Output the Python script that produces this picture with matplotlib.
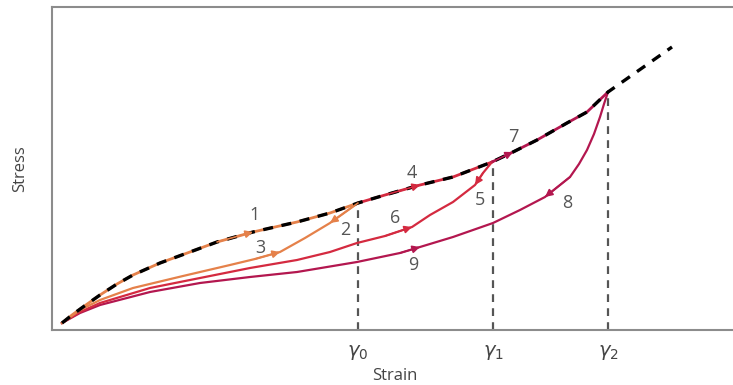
import matplotlib.pyplot as plt

plt.rcParams['font.family'] = ['Open Sans', 'DejaVu Sans']
plt.rcParams['mathtext.fontset'] = 'dejavusans'

# loading envelope (strain, stress), arbitrary units
env_x = [10, 20, 31, 48, 65, 81, 108, 138, 165, 201, 245, 278, 306, 333, 368, 401, 440,
         461, 485, 515, 535, 556]
env_y = [7, 15, 23, 35, 46, 55, 67, 78, 88, 98, 108, 117, 127, 135, 145, 153, 168,
         178, 190, 207, 218, 238]
ext_x = [556, 620]
ext_y = [238, 283]

# unloading curve from gamma0
c3_x = [306, 278, 253, 228, 203, 178, 131, 81, 48, 28, 10]
c3_y = [127, 107, 92, 78, 71, 65, 54, 42, 30, 20, 7]
# unloading curve from gamma1
c6_x = [440, 431, 423, 401, 378, 360, 333, 305, 278, 245, 198, 148, 98, 48, 28, 10]
c6_y = [168, 157, 145, 128, 115, 103, 94, 87, 78, 70, 62, 52, 42, 27, 18, 7]
# unloading curve from gamma2
c9_x = [556, 552, 548, 542, 535, 527, 518, 493, 468, 441, 401, 368, 348, 305, 245, 198,
        148, 98, 48, 28, 10]
c9_y = [238, 226, 213, 196, 180, 166, 153, 133, 120, 107, 93, 83, 77, 68, 58, 53,
        47, 38, 25, 17, 7]

gammas = [306, 441, 556]
gamma_stress = [127, 168, 238]
gamma_labels = [r'$\gamma_0$', r'$\gamma_1$', r'$\gamma_2$']

num_x = [203, 293, 208, 360, 428, 343, 461, 515, 361]
num_y = [115, 100, 82, 157, 130, 112, 193, 127, 65]

orange = '#e5814a'
red = '#d42a40'
crimson = '#b3174f'
grey = '#555555'

fig = plt.figure(figsize=(7.33, 3.85), dpi=100)
ax = fig.add_axes([52 / 733, 55 / 385, 681 / 733, 323 / 385])
ax.set_xlim(0, 681)
ax.set_ylim(0, 323)

# coloured solid paths
ax.plot(env_x[:13], env_y[:13], color=orange, lw=2.0, solid_capstyle='round')
ax.plot(env_x[12:17], env_y[12:17], color=red, lw=2.0)
ax.plot(env_x[16:], env_y[16:], color=crimson, lw=2.0)
ax.plot(c9_x, c9_y, color=crimson, lw=1.6)
ax.plot(c6_x, c6_y, color=red, lw=1.6)
ax.plot(c3_x, c3_y, color=orange, lw=1.6)

# black dashed envelope on top
ax.plot(env_x + ext_x[1:], env_y + ext_y[1:], color='black', lw=2.4,
        dashes=(3.0, 2.6), zorder=3)

# vertical guide lines
for g, s in zip(gammas, gamma_stress):
    ax.plot([g, g], [0, s], color=grey, lw=1.6, dashes=(3.5, 2.8), zorder=1)

# arrowheads: (curve x, curve y, index, step, colour)
arrows = [
    (env_x, env_y, 9, 1, orange),
    (c3_x, c3_y, 1, 1, orange),
    (c3_x, c3_y, 3, -1, orange),
    (env_x, env_y, 14, 1, red),
    (c6_x, c6_y, 2, 1, red),
    (c6_x, c6_y, 5, -1, red),
    (env_x, env_y, 17, 1, crimson),
    (c9_x, c9_y, 7, 1, crimson),
    (c9_x, c9_y, 11, -1, crimson),
]
for xs, ys, i, d, col in arrows:
    ax.annotate('', xy=(xs[i], ys[i]), xytext=(xs[i - d], ys[i - d]),
                arrowprops=dict(arrowstyle='-|>', color=col, lw=1.2,
                                mutation_scale=11, shrinkA=0, shrinkB=0),
                zorder=4)

# curve numbers
for k, (x, y) in enumerate(zip(num_x, num_y)):
    ax.text(x, y, str(k + 1), fontsize=13, color='#555555', ha='center', va='center')

ax.set_xticks(gammas)
ax.set_xticklabels(gamma_labels, fontsize=14, color='#444444')
ax.set_yticks([])
ax.tick_params(axis='x', length=0, pad=9)
ax.set_xlabel('Strain', fontsize=12, color='#444444')
ax.set_ylabel('Stress', fontsize=12, color='#444444', labelpad=17)
ax.xaxis.set_label_coords(343 / 681, -0.118)

for side in ['left', 'bottom', 'top']:
    ax.spines[side].set_color('#8c8c8c')
    ax.spines[side].set_linewidth(1.5)
ax.spines['right'].set_visible(False)

plt.savefig('out.png', dpi=100)
plt.close()
